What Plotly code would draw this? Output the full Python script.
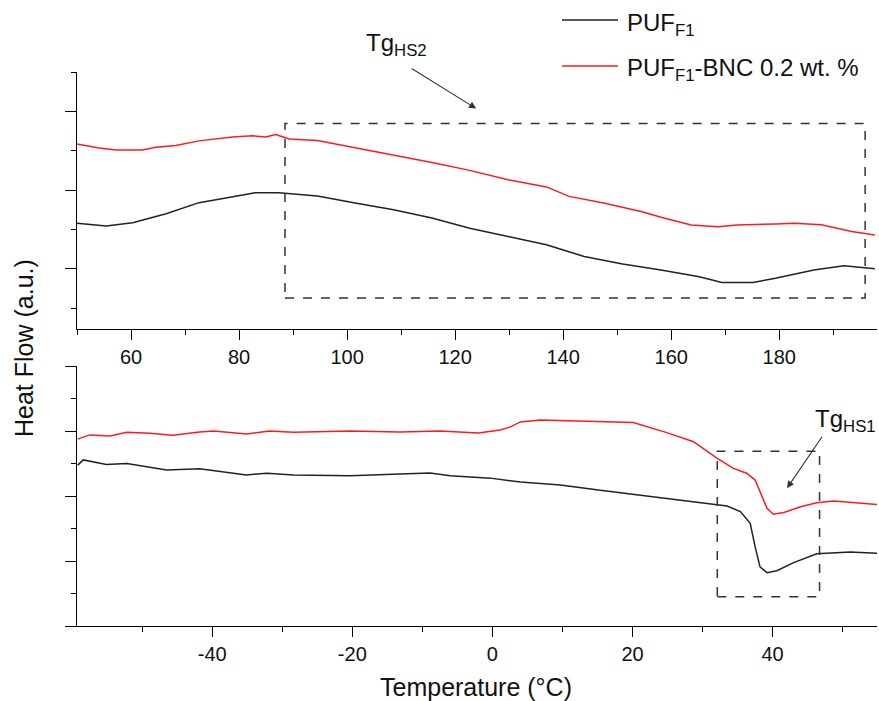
import plotly.graph_objects as go

# ---------------- data ----------------
# Upper panel (°C)
top_T_black = [50, 55.4, 60.3, 66.5, 72.6, 78.7, 83, 87.4, 94.5, 101.5, 108.6, 115.7,
               122.7, 129.8, 136.9, 143.9, 151, 158.1, 165.2, 169.4, 175.1, 179.3,
               186.4, 192, 197.7]
top_black = [2.16, 2.09, 2.17, 2.40, 2.68, 2.83, 2.93, 2.93, 2.85, 2.67, 2.50, 2.29,
             2.03, 1.82, 1.61, 1.31, 1.12, 0.97, 0.80, 0.65, 0.65, 0.76, 0.97, 1.08, 1.00]

top_T_red = [50, 54.1, 57.2, 60.2, 62.1, 64.6, 68.3, 72.6, 75.7, 78.8, 82.5, 84.9, 86.8,
             89.3, 94.5, 101.5, 108.6, 115.7, 122.7, 129.8, 136.9, 141.1, 147.5, 154.6,
             158.1, 163.7, 168.7, 172.2, 179.3, 182.8, 187.8, 193.4, 197.7]
top_red = [4.17, 4.07, 4.02, 4.01, 4.02, 4.09, 4.13, 4.25, 4.30, 4.35, 4.38, 4.35, 4.41,
           4.30, 4.26, 4.08, 3.90, 3.70, 3.50, 3.26, 3.08, 2.84, 2.67, 2.45, 2.31, 2.11,
           2.07, 2.11, 2.14, 2.16, 2.12, 1.95, 1.86]

# Lower panel (°C)
bot_T_black = [-59.2, -58.4, -55.1, -52.2, -46.5, -41.8, -35.1, -32.2, -28.4, -20.3, -13.2,
               -8.9, -6, -0.3, 4, 9.7, 15.4, 22.5, 29.7, 33.5, 35.4, 36.8, 37.5, 38.2,
               39.2, 40.6, 43, 46.3, 51.1, 54.9]
bot_black = [4.95, 5.11, 4.97, 5.0, 4.80, 4.84, 4.65, 4.70, 4.65, 4.62, 4.68, 4.71, 4.62,
             4.55, 4.43, 4.34, 4.18, 3.98, 3.79, 3.69, 3.52, 3.16, 2.44, 1.82, 1.64, 1.70,
             1.95, 2.22, 2.28, 2.24]

bot_T_red = [-59.2, -57.5, -54.6, -52.2, -48.9, -45.6, -41.8, -39.8, -35.1, -31.8, -28.4,
             -20.3, -13.2, -7.5, -2, 1.1, 2.5, 4, 6.8, 12.5, 15.4, 20.1, 24.9, 28.7, 32.1,
             34.4, 36.3, 37.5, 38.5, 39.2, 40.1, 41.6, 44, 46.3, 48.7, 52.5, 54.9]
bot_red = [5.75, 5.88, 5.85, 5.96, 5.93, 5.87, 5.97, 6.0, 5.91, 6.0, 5.96, 6.0, 5.97, 6.0,
           5.94, 6.03, 6.12, 6.28, 6.34, 6.31, 6.29, 6.26, 5.95, 5.67, 5.16, 4.85, 4.70,
           4.49, 3.98, 3.62, 3.44, 3.49, 3.67, 3.79, 3.85, 3.79, 3.74]

top_tickvals = [60, 80, 100, 120, 140, 160, 180]
top_ticktext = ["60", "80", "100", "120", "140", "160", "180"]
bot_tickvals = [-40, -20, 0, 20, 40]
bot_ticktext = ["-40", "-20", "0", "20", "40"]

series_names = ["PUF<sub>F1</sub>", "PUF<sub>F1</sub>-BNC 0.2 wt. %"]
x_title = "Temperature (°C)"
y_title = "Heat Flow (a.u.)"

BLACK = "#222222"
RED = "#ff1a1a"
FONT = "Liberation Sans, Arial, sans-serif"

# ---------------- figure ----------------
W, H = 879, 701
ML, MR, MT, MB = 77, 2, 72, 75
PW, PH = W - ML - MR, H - MT - MB


def px_x(px):
    return (px - ML) / PW


def px_y(py):
    return (H - MB - py) / PH


fig = go.Figure()
fig.add_trace(go.Scatter(x=top_T_black, y=top_black, xaxis="x2", yaxis="y2", mode="lines",
                         line=dict(color=BLACK, width=1.5), name=series_names[0]))
fig.add_trace(go.Scatter(x=top_T_red, y=top_red, xaxis="x2", yaxis="y2", mode="lines",
                         line=dict(color=RED, width=1.5), name=series_names[1]))
fig.add_trace(go.Scatter(x=bot_T_black, y=bot_black, xaxis="x", yaxis="y", mode="lines",
                         line=dict(color=BLACK, width=1.5), name=series_names[0]))
fig.add_trace(go.Scatter(x=bot_T_red, y=bot_red, xaxis="x", yaxis="y", mode="lines",
                         line=dict(color=RED, width=1.5), name=series_names[1]))

axis_common = dict(showline=True, linecolor="black", linewidth=1.3, ticks="outside",
                   tickcolor="black", tickwidth=1.3, showgrid=False, zeroline=False,
                   mirror=False)

fig.update_layout(
    width=W, height=H,
    margin=dict(l=ML, r=MR, t=MT, b=MB),
    plot_bgcolor="white", paper_bgcolor="white",
    showlegend=False,
    font=dict(family=FONT, color="black"),
    xaxis=dict(domain=[0, 1], anchor="y", range=[-59.3, 54.9], tickmode="array",
               tickvals=bot_tickvals, ticktext=bot_ticktext,
               ticklen=10, tickfont=dict(size=20, color="#111111"),
               minor=dict(ticks="outside", ticklen=5, tick0=0, dtick=10, tickcolor="black",
                          tickwidth=1.3),
               **axis_common),
    yaxis=dict(domain=[0, px_y(366)], anchor="x", range=[0, 8], tick0=0, dtick=2,
               ticklen=11, showticklabels=False,
               minor=dict(ticks="outside", ticklen=5, tick0=0, dtick=1, tickcolor="black",
                          tickwidth=1.3),
               **axis_common),
    xaxis2=dict(domain=[0, 1], anchor="y2", range=[50, 198.1], tickmode="array",
                tickvals=top_tickvals, ticktext=top_ticktext,
                ticklen=10, tickfont=dict(size=20, color="#111111"),
                minor=dict(ticks="outside", ticklen=5, tick0=60, dtick=10, tickcolor="black",
                           tickwidth=1.3),
                **axis_common),
    yaxis2=dict(domain=[px_y(329), 1], anchor="x2", range=[-0.53, 6.0], tick0=1, dtick=2,
                ticklen=11, showticklabels=False,
                minor=dict(ticks="outside", ticklen=5, tick0=0, dtick=1, tickcolor="black",
                           tickwidth=1.3),
                **axis_common),
)

# dashed boxes around the transitions
fig.add_shape(type="rect", xref="x2", yref="y2", x0=88.5, x1=195.9, y0=0.26, y1=4.69,
              line=dict(color="#333333", width=1.5, dash="dash"))
fig.add_shape(type="rect", xref="x", yref="y", x0=32.1, x1=46.7, y0=0.90, y1=5.38,
              line=dict(color="#333333", width=1.5, dash="dash"))

# Tg annotations
fig.add_annotation(xref="x2", yref="y2", x=123.9, y=5.07, text="", showarrow=True,
                   ax=-66, ay=-41, arrowhead=2, arrowsize=1.3, arrowwidth=1.1,
                   arrowcolor="#333333")
fig.add_annotation(xref="paper", yref="paper", x=px_x(364), y=px_y(45), xanchor="left",
                   yanchor="middle", text="Tg<sub>HS2</sub>", showarrow=False,
                   font=dict(size=24, color="#111111"))
fig.add_annotation(xref="x", yref="y", x=42.06, y=4.24, text="", showarrow=True,
                   ax=36, ay=-53, arrowhead=2, arrowsize=1.3, arrowwidth=1.1,
                   arrowcolor="#333333")
fig.add_annotation(xref="paper", yref="paper", x=px_x(878), y=px_y(420), xanchor="right",
                   yanchor="middle", text="Tg<sub>HS1</sub>", showarrow=False,
                   font=dict(size=24, color="#111111"))

# axis titles
fig.add_annotation(xref="paper", yref="paper", x=px_x(476), y=px_y(687), xanchor="center",
                   yanchor="middle", text=x_title, showarrow=False,
                   font=dict(size=25, color="#111111"))
fig.add_annotation(xref="paper", yref="paper", x=px_x(24), y=px_y(348), xanchor="center",
                   yanchor="middle", text=y_title, textangle=-90, showarrow=False,
                   font=dict(size=25, color="#111111"))

# manual legend
for i, (col, py) in enumerate([(BLACK, 20), (RED, 66)]):
    fig.add_shape(type="line", xref="paper", yref="paper", x0=px_x(562), x1=px_x(618),
                  y0=px_y(py), y1=px_y(py), line=dict(color=col, width=1.5))
    fig.add_annotation(xref="paper", yref="paper", x=px_x(625), y=px_y(py + 4),
                       xanchor="left", yanchor="middle", text=series_names[i],
                       showarrow=False, font=dict(size=24, color="#111111"))

fig.write_html("out.html")
